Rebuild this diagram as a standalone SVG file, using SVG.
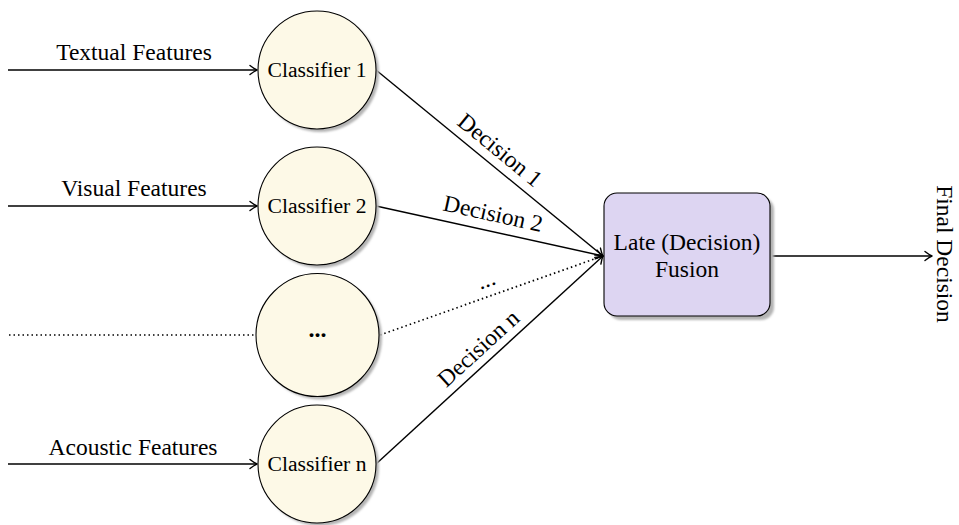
<svg xmlns="http://www.w3.org/2000/svg" width="959" height="525" viewBox="0 0 959 525">
  <style>
    text { font-family: "Liberation Serif", "Times New Roman", serif; fill: #000; }
    .lbl { font-size: 23.5px; text-anchor: middle; }
    .node { font-size: 21.6px; text-anchor: middle; dominant-baseline: central; }
    .dots { font-size: 24px; font-weight: bold; text-anchor: middle; }
    .circ { fill: #fdf9e7; stroke: #000; stroke-width: 1.1; }
    .shadow { fill: #b4b4b4; filter: url(#blur); }
    .box { fill: #ddd5f2; stroke: #000; stroke-width: 1.1; }
    .edge { fill: none; stroke: #000; stroke-width: 1.4; }
    .dot { fill: none; stroke: #000; stroke-width: 1.7; stroke-dasharray: 1.5 3; }
  </style>
  <defs>
    <filter id="blur" x="-20%" y="-20%" width="140%" height="140%">
      <feGaussianBlur stdDeviation="1.3"/>
    </filter>
    <marker id="arr" viewBox="-10 -6 12 12" refX="0" refY="0" markerWidth="12" markerHeight="12" markerUnits="userSpaceOnUse" orient="auto">
      <path d="M-7,-4.5 Q-2.5,-1 0,0 Q-2.5,1 -7,4.5" fill="none" stroke="#000" stroke-width="1.4" stroke-linecap="round" stroke-linejoin="round"/>
    </marker>
  </defs>

  <g id="connectors">
    <line class="edge" x1="8" y1="70" x2="257" y2="70" marker-end="url(#arr)"/>
    <line class="edge" x1="8" y1="206" x2="257" y2="206" marker-end="url(#arr)"/>
    <line class="dot" x1="9" y1="335" x2="255" y2="335"/>
    <line class="edge" x1="8" y1="464" x2="257" y2="464" marker-end="url(#arr)"/>
    <line class="edge" x1="376" y1="70" x2="603" y2="256" marker-end="url(#arr)"/>
    <line class="edge" x1="376" y1="206" x2="603" y2="256" marker-end="url(#arr)"/>
    <line class="dot" x1="380" y1="335" x2="600" y2="257"/>
    <line class="edge" x1="376" y1="464" x2="603" y2="256" marker-end="url(#arr)"/>
    <line class="edge" x1="770" y1="256" x2="932" y2="256" marker-end="url(#arr)"/>
    <text class="lbl" x="134" y="60">Textual Features</text>
    <text class="lbl" x="134" y="196">Visual Features</text>
    <text class="lbl" x="133" y="455">Acoustic Features</text>
    <text class="lbl" transform="translate(489.5,163) rotate(39.33)" x="0" y="-9">Decision 1</text>
    <text class="lbl" transform="translate(489.3,231) rotate(12.42)" x="0" y="-10">Decision 2</text>
    <text class="lbl" transform="translate(491.6,295.3) rotate(-19.43)" x="0" y="-9">...</text>
    <text class="lbl" transform="translate(489,360) rotate(-42.37)" x="0" y="-8">Decision n</text>
    <text class="lbl" transform="translate(937,254) rotate(90)" x="0" y="0">Final Decision</text>
  </g>

  <g id="classifier1">
    <circle class="shadow" cx="320" cy="73" r="59"/>
    <circle class="circ" cx="317" cy="70" r="59"/>
    <text class="node" x="317" y="70">Classifier 1</text>
  </g>
  <g id="classifier2">
    <circle class="shadow" cx="320" cy="209" r="59"/>
    <circle class="circ" cx="317" cy="206" r="59"/>
    <text class="node" x="317" y="206">Classifier 2</text>
  </g>
  <g id="classifier_dots">
    <circle class="shadow" cx="320.5" cy="338" r="61.5"/>
    <circle class="circ" cx="317.5" cy="335" r="61.5"/>
    <text class="dots" x="317.5" y="337">...</text>
  </g>
  <g id="classifiern">
    <circle class="shadow" cx="320" cy="467" r="59"/>
    <circle class="circ" cx="317" cy="464" r="59"/>
    <text class="node" x="317" y="464">Classifier n</text>
  </g>
  <g id="fusion">
    <rect class="shadow" x="608" y="197" width="166" height="123" rx="13"/>
    <rect class="box" x="604" y="193" width="166" height="123" rx="13"/>
    <text class="lbl" x="687" y="250">Late (Decision)</text>
    <text class="lbl" x="687" y="277">Fusion</text>
  </g>
</svg>
